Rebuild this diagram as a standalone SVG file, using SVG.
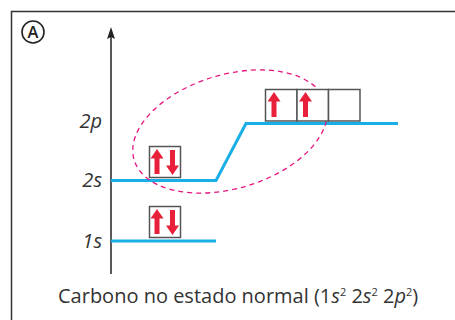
<svg xmlns="http://www.w3.org/2000/svg" width="455" height="320" viewBox="0 0 455 320">
<style>
.frame{fill:none;stroke:#333;stroke-width:1.5}
.axis{stroke:#222;stroke-width:1.5;fill:none}
.lvl{stroke:#1aaee6;stroke-width:3;fill:none;stroke-linejoin:miter}
.box{fill:#fff;stroke:#555;stroke-width:1.5}
.arr{fill:#e8203a}
.lbl{font-family:"Open Sans","Liberation Sans",sans-serif;font-size:20px;fill:#333}
.it{font-style:italic}
.ell{fill:none;stroke:#e6157f;stroke-width:1.3;stroke-dasharray:5 4}
</style>
<defs>
<path id="up" d="M0,-13 L6.5,-3.5 L2.5,-3.5 L2.5,12 L-2.5,12 L-2.5,-3.5 L-6.5,-3.5 Z"/>
<path id="dn" d="M0,13 L6.5,3.5 L2.5,3.5 L2.5,-12 L-2.5,-12 L-2.5,3.5 L-6.5,3.5 Z"/>
</defs>
<rect class="frame" x="11.5" y="11.5" width="460" height="330"/>
<g id="label-A">
<circle cx="33" cy="32" r="11" fill="none" stroke="#222" stroke-width="1.6"/>
<text x="33" y="38" text-anchor="middle" font-family="Open Sans, Liberation Sans, sans-serif" font-size="16.5" font-weight="600" fill="#222">A</text>
</g>
<g id="connectors">
<line class="axis" x1="111" y1="36" x2="111" y2="274"/>
<path d="M111,27 L115,39 L111,37 L107,39 Z" fill="#222"/>
<path class="lvl" d="M111,180.5 H216 L246,123.5 H398"/>
<path class="lvl" d="M111,241 H216"/>
</g>
<g id="ellipse">
<ellipse class="ell" cx="230" cy="131.5" rx="100" ry="57" transform="rotate(-16.5 230 131.5)"/>
</g>
<g id="orb-1s">
<rect class="box" x="149.5" y="206.5" width="31" height="31"/>
<use href="#up" class="arr" x="157" y="222"/>
<use href="#dn" class="arr" x="172.5" y="222"/>
</g>
<g id="orb-2s">
<rect class="box" x="149.5" y="146.5" width="31" height="31"/>
<use href="#up" class="arr" x="157" y="162"/>
<use href="#dn" class="arr" x="172.5" y="162"/>
</g>
<g id="orb-2p">
<rect class="box" x="265.5" y="89.5" width="31.5" height="31.5"/>
<rect class="box" x="297" y="89.5" width="31.5" height="31.5"/>
<rect class="box" x="328.5" y="89.5" width="31.5" height="31.5"/>
<use href="#up" class="arr" x="274" y="105"/>
<use href="#up" class="arr" x="305.5" y="105"/>
</g>
<g id="labels">
<text class="lbl it" x="102" y="128" text-anchor="end">2p</text>
<text class="lbl it" x="102" y="187" text-anchor="end">2s</text>
<text class="lbl it" x="102" y="248" text-anchor="end">1s</text>
</g>
<text class="lbl" x="58" y="303" font-size="18.2">Carbono no estado normal (1<tspan class="it">s</tspan><tspan font-size="11" dy="-7">2</tspan><tspan dy="7"> 2</tspan><tspan class="it">s</tspan><tspan font-size="11" dy="-7">2</tspan><tspan dy="7"> 2</tspan><tspan class="it">p</tspan><tspan font-size="11" dy="-7">2</tspan><tspan dy="7">)</tspan></text>
</svg>
